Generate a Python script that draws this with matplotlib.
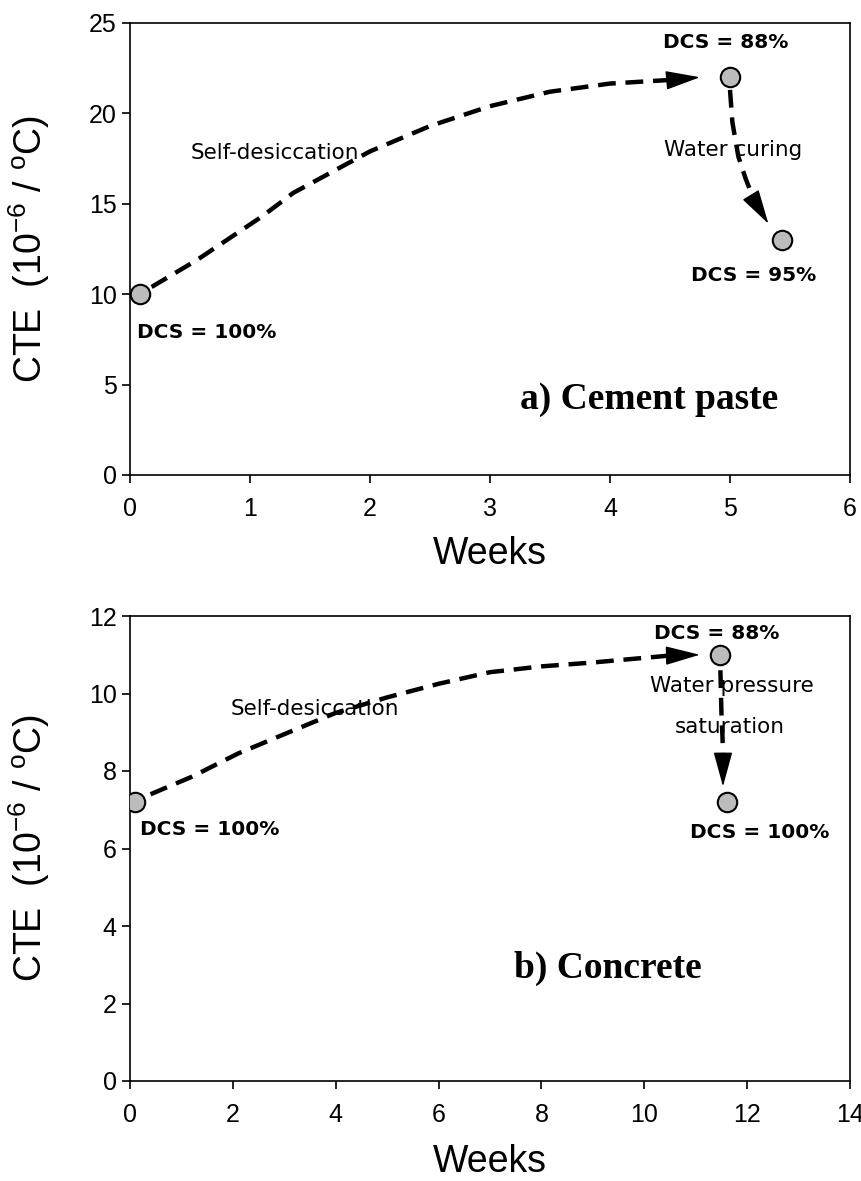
import matplotlib
matplotlib.use("Agg")
import matplotlib.pyplot as plt

plt.rcParams['font.family'] = ['Liberation Sans', 'DejaVu Sans']
plt.rcParams['mathtext.fontset'] = 'custom'
plt.rcParams['mathtext.rm'] = 'Liberation Sans'
plt.rcParams['mathtext.it'] = 'Liberation Sans'

# ---- panel a) cement paste ----
paste_weeks = [0.08, 5.0, 5.43]
paste_cte = [10.0, 22.0, 13.0]
paste_dcs = ["DCS = 100%", "DCS = 88%", "DCS = 95%"]
# self-desiccation path (last point = arrow tip)
paste_sd_x = [0.18, 0.56, 1.1, 1.36, 2.0, 2.5, 3.0, 3.5, 4.0, 4.5, 4.75]
paste_sd_y = [10.4, 11.9, 14.3, 15.6, 17.9, 19.3, 20.4, 21.2, 21.65, 21.85, 22.0]
# water curing path
paste_wc_x = [5.0, 5.02, 5.07, 5.13, 5.2, 5.32]
paste_wc_y = [21.3, 19.5, 17.6, 16.4, 15.2, 13.9]

# ---- panel b) concrete ----
conc_weeks = [0.1, 11.47, 11.6]
conc_cte = [7.2, 11.0, 7.2]
conc_dcs = ["DCS = 100%", "DCS = 88%", "DCS = 100%"]
conc_sd_x = [0.4, 1.2, 2.1, 3.0, 4.0, 5.0, 6.0, 7.0, 8.0, 9.0, 10.0, 10.5, 11.08]
conc_sd_y = [7.4, 7.85, 8.45, 8.95, 9.5, 9.9, 10.25, 10.55, 10.7, 10.8, 10.92, 10.98, 11.0]
conc_wp_x = [11.48, 11.5, 11.52, 11.53, 11.53]
conc_wp_y = [10.6, 9.5, 8.9, 8.4, 7.6]

W, H = 862, 1181
fig = plt.figure(figsize=(W / 100, H / 100), dpi=100)
ax1 = fig.add_axes([130 / W, 1 - 475 / H, 720 / W, 452 / H])
ax2 = fig.add_axes([130 / W, 1 - 1081 / H, 720 / W, 465 / H])

dcs_font = dict(family='DejaVu Sans', fontweight='bold', fontsize=14.5)
note_font = dict(family='DejaVu Sans', fontsize=15.5)


def path_arrow(ax, xs, ys):
    # dashed curve up to the base of the head, then a filled head
    ax.plot(xs[:-1], ys[:-1], ls=(0, (4, 2.2)), lw=3.2, color='black',
            dash_capstyle='butt', zorder=2)
    ax.annotate('', xy=(xs[-1], ys[-1]), xytext=(xs[-2], ys[-2]),
                arrowprops=dict(arrowstyle='-|>,head_length=1.1,head_width=0.3',
                                mutation_scale=20, color='black', lw=1,
                                shrinkA=0, shrinkB=0), zorder=3)


def style_axes(ax, xmax, xstep, ymax, ystep):
    ax.set_xlim(0, xmax)
    ax.set_ylim(0, ymax)
    ax.set_xticks(range(0, xmax + 1, xstep))
    ax.set_yticks(range(0, ymax + 1, ystep))
    for s in ax.spines.values():
        s.set_linewidth(1.2)
    ax.tick_params(direction='out', length=6, width=1.2, labelsize=18,
                   top=False, right=False)
    ax.tick_params(axis='x', pad=10)
    ax.set_ylabel('CTE  (10$^{-6}$ / $^{\\rm o}$C)', fontsize=27)
    ax.yaxis.set_label_coords(-0.108, 0.5)
    ax.set_xlabel('Weeks', fontsize=27, va='center')
    ax.xaxis.set_label_coords(0.5, -0.175)


# panel a
path_arrow(ax1, paste_sd_x, paste_sd_y)
path_arrow(ax1, paste_wc_x, paste_wc_y)
ax1.plot(paste_weeks, paste_cte, 'o', ms=14, mfc='#bcbcbc', mec='black',
         mew=1.5, zorder=4)
ax1.text(0.06, 7.9, paste_dcs[0], ha='left', va='center', **dcs_font)
ax1.text(4.96, 23.9, paste_dcs[1], ha='center', va='center', **dcs_font)
ax1.text(5.2, 11.05, paste_dcs[2], ha='center', va='center', **dcs_font)
ax1.text(1.21, 17.8, 'Self-desiccation', ha='center', va='center', **note_font)
ax1.text(5.03, 18.0, 'Water curing', ha='center', va='center', **note_font)
ax1.text(4.33, 4.15, 'a) Cement paste', ha='center', va='center',
         family='Liberation Serif', fontweight='bold', fontsize=27)
style_axes(ax1, 6, 1, 25, 5)

# panel b
path_arrow(ax2, conc_sd_x, conc_sd_y)
path_arrow(ax2, conc_wp_x, conc_wp_y)
ax2.plot(conc_weeks, conc_cte, 'o', ms=14, mfc='#bcbcbc', mec='black',
         mew=1.5, zorder=4)
ax2.text(0.2, 6.5, conc_dcs[0], ha='left', va='center', **dcs_font)
ax2.text(11.4, 11.56, conc_dcs[1], ha='center', va='center', **dcs_font)
ax2.text(12.25, 6.4, conc_dcs[2], ha='center', va='center', **dcs_font)
ax2.text(3.6, 9.6, 'Self-desiccation', ha='center', va='center', **note_font)
ax2.text(11.7, 10.2, 'Water pressure', ha='center', va='center', **note_font)
ax2.text(11.67, 9.14, 'saturation', ha='center', va='center', **note_font)
ax2.text(9.3, 2.9, 'b) Concrete', ha='center', va='center',
         family='Liberation Serif', fontweight='bold', fontsize=27)
style_axes(ax2, 14, 2, 12, 2)

fig.savefig('out.png', dpi=100)
